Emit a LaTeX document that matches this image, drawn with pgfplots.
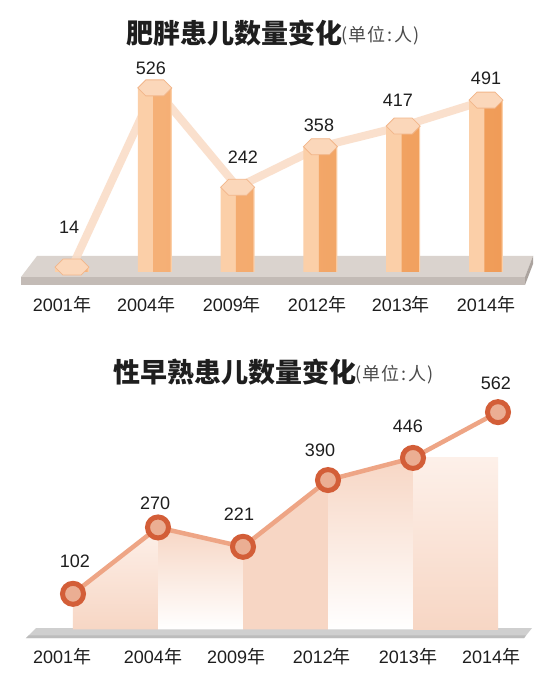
\documentclass[border=0pt]{standalone}
\usepackage{fontspec}
\setmainfont{Liberation Sans}
\newfontfamily\cjk{Noto Sans CJK SC}
\usepackage{pgfplots}
\pgfplotsset{compat=1.18}
\definecolor{slabtop}{HTML}{DAD3CE}
\definecolor{slabfront}{HTML}{C3BBB6}
\definecolor{slabside}{HTML}{ABA39E}
\definecolor{barlight}{HTML}{FBCFA8}
\definecolor{barmid}{HTML}{F6B57E}
\definecolor{bardark}{HTML}{F09C58}
\definecolor{capcol}{HTML}{FBD7BA}
\definecolor{capedge}{HTML}{F2B68A}
\definecolor{topline}{HTML}{FADDC8}
\definecolor{peach}{HTML}{F7D6C4}
\definecolor{peachL}{HTML}{FDF0E9}
\definecolor{linecol}{HTML}{EEA585}
\definecolor{markdark}{HTML}{D35E38}
\definecolor{markfill}{HTML}{EBAE93}
\definecolor{greyslab}{HTML}{BCBCBC}
\definecolor{greyslabT}{HTML}{CFCFCF}
\definecolor{txt}{HTML}{1E1E1E}
\pgfdeclareplotmark{hexcap}{%
  \pgfpathmoveto{\pgfpoint{-17bp}{0bp}}%
  \pgfpathlineto{\pgfpoint{-9bp}{8bp}}%
  \pgfpathlineto{\pgfpoint{9bp}{8bp}}%
  \pgfpathlineto{\pgfpoint{17bp}{0bp}}%
  \pgfpathlineto{\pgfpoint{9bp}{-8bp}}%
  \pgfpathlineto{\pgfpoint{-9bp}{-8bp}}%
  \pgfpathclose
  \pgfusepathqfillstroke}
\newcommand{\unit}{(\kern1bp 单\kern1bp 位\kern2bp:\kern2bp 人\kern1bp)}
\begin{document}
\begin{tikzpicture}[x=1bp,y=1bp]
\useasboundingbox (0,0) rectangle (550,687);
\fill[white] (0,0) rectangle (550,687);
% titles
\node[anchor=center, text=txt, font=\cjk\bfseries\fontsize{27bp}{30bp}\selectfont] at (234,654) {肥胖患儿数量变化};
\node[anchor=west, inner sep=0pt, text=txt!80, font=\cjk\fontsize{18bp}{20bp}\selectfont] at (341,651) {\unit};
\node[anchor=center, text=txt, font=\cjk\bfseries\fontsize{27bp}{30bp}\selectfont] at (235,315) {性早熟患儿数量变化};
\node[anchor=west, inner sep=0pt, text=txt!80, font=\cjk\fontsize{18bp}{20bp}\selectfont] at (355,312) {\unit};

% ---------- top chart ----------
\begin{axis}[at={(0bp,394bp)}, anchor=south west, scale only axis,
  width=550bp, height=231bp,
  xmin=-0.8696, xmax=5.773, ymin=-60, ymax=600, clip=false,
  axis line style={draw=none}, tick style={draw=none}, ytick=\empty,
  xtick={-0.121,0.894,1.932,2.959,3.973,5},
  xticklabels={2001{\cjk 年},2004{\cjk 年},2009{\cjk 年},2012{\cjk 年},2013{\cjk 年},2014{\cjk 年}},
  xticklabel style={anchor=center, yshift=-12bp, text=txt, font=\fontsize{18bp}{20bp}\selectfont}]
\fill[slabtop] (axis cs:-0.4227,45.7) -- (axis cs:5.568,45.7) -- (axis cs:5.471,-14.3) -- (axis cs:-0.616,-14.3) -- cycle;
\fill[slabfront] (axis cs:-0.616,-14.3) rectangle (axis cs:5.471,-37.1);
\fill[slabside] (axis cs:5.471,-14.3) -- (axis cs:5.568,45.7) -- (axis cs:5.568,22.9) -- (axis cs:5.471,-37.1) -- cycle;
\addplot[line width=8bp, color=topline, opacity=0.9, line join=round] coordinates {(0,14) (1,526) (2,242) (3,358) (4,417) (5,491)};
\addplot[ybar, bar width=0.41, bar shift=0, fill=barlight, draw=none] coordinates {(0,14) (1,526) (2,242) (3,358) (4,417) (5,491)};
\addplot[ybar, bar width=0.21, bar shift=0.085, draw=none, left color=barmid, right color=bardark] coordinates {(0,14) (1,526) (2,242) (3,358) (4,417) (5,491)};
\addplot[only marks, mark=hexcap, mark options={fill=capcol, draw=capedge, line width=0.8bp}] coordinates {(0,14) (1,526) (2,242) (3,358) (4,417) (5,491)};
\addplot[draw=none, nodes near coords, point meta=explicit symbolic,
  nodes near coords style={anchor=center, text=txt, font=\fontsize{18bp}{20bp}\selectfont}]
  coordinates {(-0.036,128.6) [14] (0.954,582.9) [526] (2.065,328.6) [242] (2.983,420) [358] (3.937,491.4) [417] (5.0,554.3) [491]};
\end{axis}

% ---------- bottom chart ----------
\begin{axis}[at={(0bp,45bp)}, anchor=south west, scale only axis,
  width=550bp, height=264.65bp,
  xmin=-0.8588, xmax=5.6118, ymin=-20, ymax=650, clip=false,
  axis line style={draw=none}, tick style={draw=none}, ytick=\empty,
  xtick={-0.129,0.941,1.918,2.929,3.941,4.918},
  xticklabels={2001{\cjk 年},2004{\cjk 年},2009{\cjk 年},2012{\cjk 年},2013{\cjk 年},2014{\cjk 年}},
  xticklabel style={anchor=center, yshift=-15bp, text=txt, font=\fontsize{18bp}{20bp}\selectfont}]
\fill[greyslabT] (axis cs:-0.435,15.2) -- (axis cs:5.4,15.2) -- (axis cs:5.306,-10.1) -- (axis cs:-0.553,-10.1) -- cycle;
\fill[greyslab] (axis cs:-0.52,-3) -- (axis cs:5.33,-3) -- (axis cs:5.306,-10.1) -- (axis cs:-0.553,-10.1) -- cycle;
\addplot[draw=none, top color=peachL, bottom color=peach] coordinates {(0,12) (0,102) (1,270) (1,12)} -- cycle;
\addplot[draw=none, top color=peach, bottom color=white] coordinates {(1,12) (1,270) (2,221) (2,12)} -- cycle;
\addplot[draw=none, top color=peach, middle color=peachL, bottom color=peach] coordinates {(2,12) (2,221) (3,390) (3,12)} -- cycle;
\addplot[draw=none, top color=peach, bottom color=white] coordinates {(3,12) (3,390) (4,446) (4,12)} -- cycle;
\addplot[draw=none, top color=peachL, bottom color=peach] coordinates {(4,12) (4,446) (5,446) (5,12)} -- cycle;
\addplot[color=linecol, line width=4.5bp, mark=*, mark size=10.5bp,
  mark options={draw=markdark, fill=markfill, line width=5bp}]
  coordinates {(0,102) (1,270) (2,221) (3,390) (4,446) (5,562)};
\addplot[draw=none, nodes near coords, point meta=explicit symbolic,
  nodes near coords style={anchor=center, text=txt, font=\fontsize{18bp}{20bp}\selectfont}]
  coordinates {(0.0235,184.8) [102] (0.965,331.6) [270] (1.953,303.8) [221] (2.906,465.8) [390] (3.941,526.6) [446] (4.976,635.4) [562]};
\end{axis}
\end{tikzpicture}
\end{document}
